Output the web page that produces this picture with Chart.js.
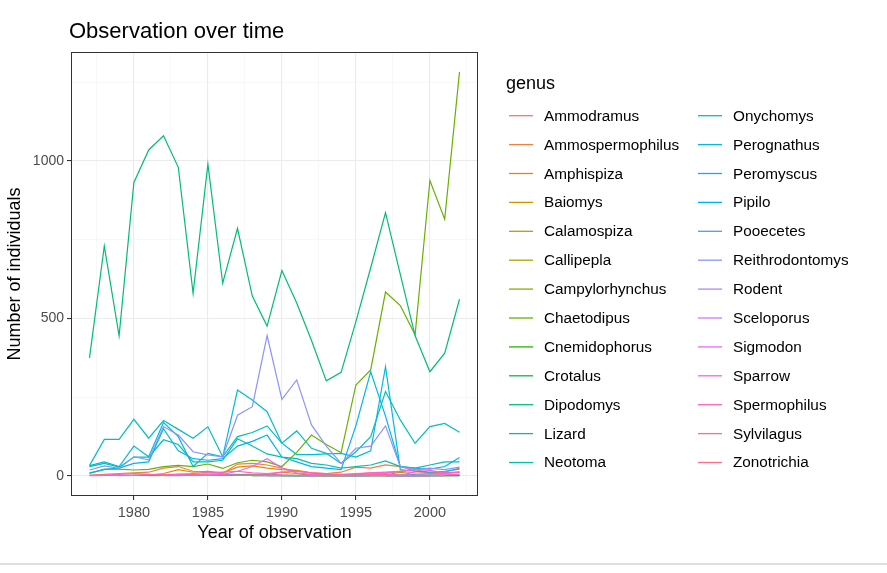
<!DOCTYPE html>
<html lang="en">
<head>
  <meta charset="UTF-8" />
  <title>Observation over time</title>
  <script src="https://cdn.jsdelivr.net/npm/chart.js"></script>
  <style>
    body {
      margin: 0;
      background: #fff;
      font-family: "Liberation Sans", Arial, sans-serif;
    }
    #wrap {
      position: relative;
      width: 887px;
      height: 573px;
      overflow: hidden;
    }
    #chart { position: absolute; left: 0; top: 0; }
    #title {
      position: absolute;
      left: 69px;
      top: 18px;
      font-size: 22px;
      color: #000;
      white-space: nowrap;
    }
    #legend { position: absolute; left: 0; top: 0; }
    .lg-title {
      position: absolute;
      left: 506px;
      top: 73px;
      font-size: 18px;
      color: #000;
    }
    .lg-text {
      position: absolute;
      font-size: 15.3px;
      color: #000;
      white-space: nowrap;
      line-height: 18px;
    }
    #bottomline {
      position: absolute;
      left: 0;
      top: 563px;
      width: 887px;
      height: 2px;
      background: #dedede;
    }
  </style>
</head>
<body>
  <div id="wrap">
    <canvas id="chart" width="887" height="573"></canvas>
    <div id="title">Observation over time</div>
    <div id="legend"></div>
    <div id="bottomline"></div>
  </div>

  <script>
    // years 1977 - 2002
    const years = [1977, 1978, 1979, 1980, 1981, 1982, 1983, 1984, 1985, 1986, 1987, 1988, 1989,
                   1990, 1991, 1992, 1993, 1994, 1995, 1996, 1997, 1998, 1999, 2000, 2001, 2002];

    const xTicks = [1977.5, 1980, 1982.5, 1985, 1987.5, 1990, 1992.5, 1995, 1997.5, 2000, 2002.5];
    const xLabels = [1980, 1985, 1990, 1995, 2000];
    const yTicks = [0, 250, 500, 750, 1000, 1250];
    const yLabels = [0, 500, 1000];

    // counts per genus, one value per year (null = not observed that year)
    const Ammodramus = [null, null, null, null, null, null, null, null, null, null, null, null, null, null, null, null, null, null, null, null, null, 1, null, null, 1, null];
    const Ammospermophilus = [2, 5, 8, 10, 12, 25, 30, 15, 10, 8, 38, 40, 35, 25, 15, 10, 8, 12, 28, 25, 35, 30, 15, 10, 12, 25];
    const Amphispiza = [null, null, null, 2, 3, 8, 20, 12, 15, 10, 28, 32, 25, 20, 18, 10, 5, 2, 5, 10, 8, 15, 20, 10, 8, 12];
    const Baiomys = [null, null, null, null, null, null, null, null, null, null, null, null, 4, 12, 8, 2, null, null, null, null, 3, 12, 4, null, null, null];
    const Calamospiza = [null, null, null, null, null, 1, 2, null, null, null, null, 3, 5, 1, null, null, null, null, null, 1, null, null, null, null, null, null];
    const Callipepla = [null, null, null, null, null, null, null, null, null, null, 2, 3, 4, 2, null, null, null, null, 1, 2, null, null, null, 1, null, null];
    const Campylorhynchus = [null, null, null, null, 1, 2, 3, 4, 2, 3, 5, 4, 3, 2, 2, 1, 2, 1, 2, 3, 2, 1, 2, null, null, null];
    const Chaetodipus = [8, 22, 22, 19, 21, 30, 34, 30, 38, 24, 42, 50, 45, 30, 75, 130, 100, 74, 289, 337, 584, 541, 448, 938, 815, 1283];
    const Cnemidophorus = [null, null, null, null, null, null, null, null, null, null, null, 1, 1, null, 1, 2, 1, null, 1, 2, 1, 1, 2, 1, 1, 2];
    const Crotalus = [null, null, null, null, null, null, null, null, null, null, null, null, 1, null, null, 1, null, null, null, null, 1, null, null, null, null, 1];
    const Dipodomys = [375, 730, 445, 932, 1035, 1080, 980, 580, 990, 612, 786, 571, 476, 652, 549, 430, 302, 329, 490, 661, 836, 640, 445, 331, 390, 561];
    const Lizard = [null, null, null, null, null, null, null, null, null, null, null, null, null, null, null, null, null, null, null, null, 1, 2, 1, null, null, null];
    const Neotoma = [30, 40, 28, 60, 60, 115, 100, 45, 45, 50, 118, 95, 70, 60, 55, 40, 35, 25, 30, 35, 48, 30, 25, 35, 45, 45];
    const Onychomys = [33, 116, 116, 180, 120, 176, 148, 120, 156, 61, 125, 138, 159, 104, 143, 88, 72, 40, 77, 125, 268, 178, 104, 157, 167, 139];
    const Perognathus = [33, 45, 30, 95, 61, 170, 125, 30, 72, 61, 273, 241, 204, 104, 68, 68, 70, 72, 60, 80, 347, 20, 15, 12, 15, 22];
    const Peromyscus = [10, 20, 25, 40, 45, 150, 80, 55, 50, 55, 95, 110, 130, 60, 45, 30, 25, 20, 160, 331, 190, 30, 25, 22, 30, 59];
    const Pipilo = [null, null, 1, 2, 3, 2, 1, 3, 2, 4, 3, 2, 3, 2, 1, 2, 3, 2, 1, 2, 3, 2, 4, 3, 2, 1];
    const Pooecetes = [null, null, null, null, null, null, null, null, null, null, null, null, null, null, null, null, null, null, null, null, 2, 3, 1, null, 2, null];
    const Reithrodontomys = [19, 32, 24, 61, 51, 157, 130, 77, 67, 61, 193, 220, 446, 243, 305, 162, 95, 40, 88, 95, 159, 30, 20, 25, 20, 28];
    const Rodent = [null, null, null, null, null, null, null, null, null, null, null, 1, 2, 1, null, null, null, null, null, 2, 3, 1, 1, null, null, null];
    const Sceloporus = [null, null, null, null, null, null, null, null, null, null, null, null, null, null, 1, null, 1, null, 1, null, 2, 1, 1, null, 1, null];
    const Sigmodon = [null, null, null, null, null, 2, 5, 3, 2, 5, 15, 30, 55, 25, 10, 5, 2, 2, 3, 5, 10, 15, 20, 18, 10, 12];
    const Sparrow = [null, null, null, null, null, null, null, null, null, null, null, null, null, null, null, null, null, null, null, null, 1, 2, 1, null, null, null];
    const Spermophilus = [2, 3, 5, 8, 5, 4, 6, 8, 10, 12, 15, 10, 8, 12, 15, 10, 8, 5, 8, 10, 12, 15, 10, 8, 10, 12];
    const Sylvilagus = [1, 2, 3, 2, 4, 3, 2, 5, 3, 4, 3, 2, 4, 3, 2, 3, 4, 2, 3, 4, 5, 3, 2, 3, 4, 5];
    const Zonotrichia = [null, null, null, null, null, null, null, null, null, null, null, null, null, null, null, null, null, null, null, null, null, null, 1, 1, null, null];

    const genera = ["Ammodramus", "Ammospermophilus", "Amphispiza", "Baiomys", "Calamospiza", "Callipepla",
                    "Campylorhynchus", "Chaetodipus", "Cnemidophorus", "Crotalus", "Dipodomys", "Lizard",
                    "Neotoma", "Onychomys", "Perognathus", "Peromyscus", "Pipilo", "Pooecetes",
                    "Reithrodontomys", "Rodent", "Sceloporus", "Sigmodon", "Sparrow", "Spermophilus",
                    "Sylvilagus", "Zonotrichia"];
    const counts = [Ammodramus, Ammospermophilus, Amphispiza, Baiomys, Calamospiza, Callipepla,
                    Campylorhynchus, Chaetodipus, Cnemidophorus, Crotalus, Dipodomys, Lizard,
                    Neotoma, Onychomys, Perognathus, Peromyscus, Pipilo, Pooecetes,
                    Reithrodontomys, Rodent, Sceloporus, Sigmodon, Sparrow, Spermophilus,
                    Sylvilagus, Zonotrichia];

    // ggplot-like hue palette (hcl, c=100, l=65)
    function hcl(h, c, l) {
      const hr = h * Math.PI / 180;
      const U = c * Math.cos(hr), V = c * Math.sin(hr);
      const Y = l > 8 ? Math.pow((l + 16) / 116, 3) : l / 903.3;
      const u = U / (13 * l) + 0.1978398;
      const v = V / (13 * l) + 0.4683363;
      const X = 9 * Y * u / (4 * v);
      const Z = -X / 3 - 5 * Y + 3 * Y / v;
      const lin = [
        3.240479 * X - 1.53715 * Y - 0.498535 * Z,
        -0.969256 * X + 1.875992 * Y + 0.041556 * Z,
        0.055648 * X - 0.204043 * Y + 1.057311 * Z
      ];
      return "#" + lin.map(x => {
        let g = x <= 0.0031308 ? 12.92 * x : 1.055 * Math.pow(x, 1 / 2.4) - 0.055;
        g = Math.round(Math.min(1, Math.max(0, g)) * 255);
        return g.toString(16).padStart(2, "0");
      }).join("");
    }
    const n = genera.length;
    const colors = genera.map((g, i) => hcl(15 + 360 * i / n, 100, 65));

    const datasets = genera.map((g, i) => ({
      label: g,
      data: years.map((yr, j) => ({ x: yr, y: counts[i][j] })),
      borderColor: colors[i],
      borderWidth: 1.2,
      pointRadius: 0,
      fill: false,
      tension: 0,
      spanGaps: true,
      order: n - i
    }));

    const FONT = "'Liberation Sans', Arial, sans-serif";

    // legend layout (two columns, 13 rows)
    const legendRow = i => 115.7 + 28.9 * (i % 13);
    const legendKeyX = i => (i < 13 ? 509 : 698);
    const legendTextX = i => (i < 13 ? 544 : 733);

    const panelBorder = {
      id: "panelBorder",
      afterDatasetsDraw(chart) {
        const a = chart.chartArea, ctx = chart.ctx;
        ctx.save();
        ctx.strokeStyle = "#333333";
        ctx.lineWidth = 1;
        ctx.strokeRect(Math.round(a.left) + 0.5, Math.round(a.top) + 0.5,
                       Math.round(a.right - a.left) - 1, Math.round(a.bottom - a.top) - 1);
        ctx.restore();
      },
      afterDraw(chart) {
        const ctx = chart.ctx;
        ctx.save();
        ctx.lineWidth = 1.3;
        genera.forEach((g, i) => {
          const y = legendRow(i);
          ctx.strokeStyle = colors[i];
          ctx.beginPath();
          ctx.moveTo(legendKeyX(i), y);
          ctx.lineTo(legendKeyX(i) + 24, y);
          ctx.stroke();
        });
        ctx.restore();
      }
    };

    const ctx = document.getElementById("chart").getContext("2d");
    new Chart(ctx, {
      type: "line",
      data: { datasets: datasets },
      plugins: [panelBorder],
      options: {
        responsive: false,
        animation: false,
        layout: { padding: { left: 0, top: 52, right: 409, bottom: 0 } },
        plugins: {
          legend: { display: false },
          tooltip: { enabled: false },
          title: { display: false }
        },
        scales: {
          x: {
            type: "linear",
            min: 1975.75,
            max: 2003.25,
            afterBuildTicks: s => { s.ticks = xTicks.map(v => ({ value: v })); },
            afterFit: s => { s.height = 77; },
            border: { display: false },
            grid: {
              color: c => (c.tick && xLabels.includes(c.tick.value)) ? "#EBEBEB" : "#F4F4F4",
              lineWidth: c => (c.tick && xLabels.includes(c.tick.value)) ? 1.1 : 0.6,
              tickColor: c => (c.tick && xLabels.includes(c.tick.value)) ? "#333333" : "rgba(0,0,0,0)",
              tickLength: 4
            },
            ticks: {
              autoSkip: false,
              maxRotation: 0,
              padding: 4,
              color: "#4D4D4D",
              font: { family: FONT, size: 14.5 },
              callback: v => xLabels.includes(v) ? String(v) : ""
            },
            title: {
              display: true,
              text: "Year of observation",
              color: "#000",
              font: { family: FONT, size: 18 },
              padding: { top: 0, bottom: 29 }
            }
          },
          y: {
            type: "linear",
            min: -63.5,
            max: 1346,
            afterBuildTicks: s => { s.ticks = yTicks.map(v => ({ value: v })); },
            afterFit: s => { s.width = 71; },
            border: { display: false },
            grid: {
              color: c => (c.tick && yLabels.includes(c.tick.value)) ? "#EBEBEB" : "#F4F4F4",
              lineWidth: c => (c.tick && yLabels.includes(c.tick.value)) ? 1.1 : 0.6,
              tickColor: c => (c.tick && yLabels.includes(c.tick.value)) ? "#333333" : "rgba(0,0,0,0)",
              tickLength: 4
            },
            ticks: {
              autoSkip: false,
              padding: 3,
              color: "#4D4D4D",
              font: { family: FONT, size: 14 },
              callback: v => yLabels.includes(v) ? String(v) : ""
            },
            title: {
              display: true,
              text: "Number of individuals",
              color: "#000",
              font: { family: FONT, size: 18 },
              padding: { top: 4, bottom: 0 }
            }
          }
        }
      }
    });

    // legend text as real text
    const legend = document.getElementById("legend");
    let html = '<div class="lg-title">genus</div>';
    genera.forEach((g, i) => {
      const top = Math.round(legendRow(i) - 9);
      html += `<div class="lg-text" style="left:${legendTextX(i)}px;top:${top}px">${g}</div>`;
    });
    legend.innerHTML = html;
  </script>
</body>
</html>
